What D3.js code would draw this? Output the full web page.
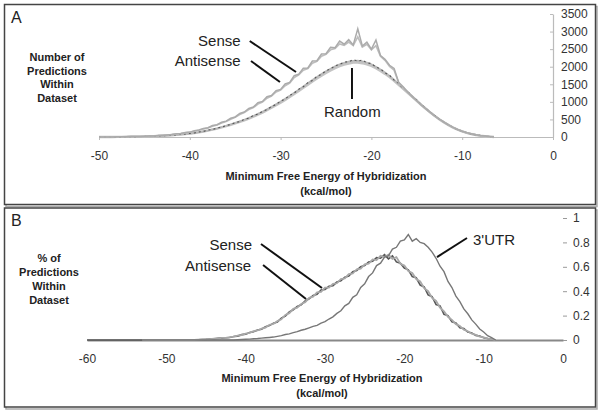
<!DOCTYPE html>
<html><head><meta charset="utf-8">
<script src="https://cdn.jsdelivr.net/npm/d3@7"></script>
<style>
body{margin:0;background:#fff}
svg{display:block;font-family:"Liberation Sans",Arial,Helvetica,sans-serif}
</style>
</head><body>
<svg id="c" width="603" height="412"></svg>
<script>
// ---------- DATA ----------
const energyStep = 0.5;
const startA = -50;              // first energy of every panel-A series
const senseA = [0,0,2,3,5,7,8,11,12,17,20,27,31,41,46,60,69,90,101,128,139,178,198,245,262,326,348,420,452,532,570,668,710,812,852,975,1012,1148,1180,1320,1355,1510,1555,1745,1790,1955,1965,2160,2170,2360,2370,2550,2540,2730,2640,2770,2620,3080,2590,2700,2500,2760,2320,2210,2040,1950,1560,1430,1280,1150,1030,910,800,700,595,505,420,345,275,215,165,125,92,62,40,26,11,0];
const antisenseA = [0,1,2,4,5,6,9,10,13,15,21,25,33,38,48,55,72,83,97,118,136,165,190,228,258,305,340,398,440,505,560,640,695,780,835,935,995,1105,1165,1280,1335,1460,1530,1690,1765,1900,1950,2100,2150,2300,2350,2480,2520,2650,2610,2700,2600,2850,2560,2640,2480,2600,2300,2180,2010,1900,1540,1410,1265,1140,1020,905,795,690,590,500,415,340,270,212,162,122,90,60,39,24,10,0];
const randomA1 = [0,0,1,2,3,4,5,7,9,12,15,19,24,30,37,44,52,62,73,86,100,118,138,162,188,217,248,283,320,358,400,444,490,543,598,657,718,787,858,932,1008,1088,1170,1258,1348,1438,1528,1620,1710,1792,1870,1943,2010,2065,2110,2145,2168,2170,2150,2118,2070,2000,1920,1835,1740,1630,1510,1395,1280,1160,1040,922,810,702,600,505,420,340,270,210,160,118,85,60,40,24,12,0];
const randomA2 = [0,1,1,3,3,5,6,8,9,13,16,20,23,32,36,46,55,60,76,84,104,115,142,158,195,212,255,278,330,352,410,438,502,535,610,650,730,778,870,925,1020,1080,1185,1250,1360,1430,1545,1610,1725,1785,1885,1935,2030,2060,2135,2140,2200,2160,2190,2110,2090,1990,1940,1825,1760,1620,1525,1385,1295,1150,1055,915,820,695,610,498,428,335,276,206,164,115,88,58,42,23,13,0];
const randomA3 = [0,0,1,2,3,4,5,6,8,11,14,18,22,28,35,42,50,59,70,82,96,113,132,155,180,208,238,272,308,345,386,428,473,524,578,635,695,762,832,904,978,1056,1136,1222,1310,1398,1486,1576,1664,1746,1822,1894,1960,2014,2058,2092,2115,2118,2100,2068,2022,1955,1878,1796,1704,1598,1482,1370,1258,1142,1025,910,800,694,594,500,416,338,268,208,158,116,84,58,38,22,10,0];

const startSenseB = -53;
const senseB = [0,0,0,0,0,0,0,0,0,0,0,0,0,0,
  0.002,0.004,0.006,0.007,0.011,0.012,0.017,0.017,0.024,0.027,0.036,0.041,0.052,0.058,0.073,0.078,0.093,0.102,0.124,0.132,0.155,0.17,0.205,0.22,0.255,0.265,0.295,0.31,0.345,0.355,0.39,0.395,0.43,0.43,0.46,0.465,0.50,0.505,0.54,0.545,0.58,0.585,0.62,0.625,0.66,0.655,0.69,0.68,0.70,0.665,0.68,0.625,0.61,0.565,0.55,0.50,0.48,0.425,0.40,0.345,0.32,0.265,0.235,0.19,0.165,0.13,0.115,0.085,0.072,0.052,0.042,0.028,0.021,0.011,0.006,0];
const startAntisenseB = -60;
const antisenseB = [0,0,0,0,0,0,0,0,0,0,0,0,0,0,0,0,0,0,0,0,0,0,0,0,0,0,0,0,
  0.001,0.003,0.005,0.008,0.009,0.013,0.015,0.019,0.021,0.029,0.032,0.044,0.048,0.062,0.068,0.082,0.088,0.108,0.118,0.138,0.148,0.18,0.196,0.23,0.248,0.275,0.288,0.32,0.338,0.365,0.375,0.41,0.415,0.44,0.445,0.475,0.485,0.515,0.525,0.56,0.57,0.6,0.61,0.64,0.645,0.675,0.67,0.70,0.665,0.69,0.64,0.63,0.59,0.575,0.52,0.51,0.45,0.435,0.37,0.355,0.29,0.28,0.21,0.2,0.15,0.14,0.1,0.095,0.065,0.058,0.038,0.033,0.018,0.013,0.005,0];
const startUtrB = -53;
const utrB = [0,0,0,0,0,0,0,0,0,0,0,0,0,0,0,0,0,0,0,0,0,0,0,0,
  0.002,0.004,0.006,0.007,0.01,0.012,0.015,0.018,0.021,0.024,0.03,0.036,0.045,0.05,0.06,0.068,0.08,0.088,0.1,0.112,0.12,0.138,0.15,0.172,0.19,0.218,0.24,0.28,0.3,0.35,0.37,0.43,0.46,0.52,0.55,0.61,0.63,0.68,0.69,0.745,0.76,0.81,
  0.82,0.865,0.81,0.83,0.8,0.79,0.76,0.72,0.67,0.605,0.56,0.48,0.43,0.36,0.315,0.255,0.215,0.165,0.13,0.09,0.065,0.035,0.02,0];

const xTicksA = [-50,-40,-30,-20,-10,0];
const yTicksA = [0,500,1000,1500,2000,2500,3000,3500];
const xTicksB = [-60,-50,-40,-30,-20,-10,0];
const yTicksB = [0,0.2,0.4,0.6,0.8,1];
const yTitleA = ["Number of","Predictions","Within","Dataset"];
const yTitleB = ["% of","Predictions","Within","Dataset"];
const xTitle = ["Minimum Free Energy of Hybridization","(kcal/mol)"];

// annotations in data units
const annA = [
  {text:"Sense", tx:-34.4, tv:2590, anchor:"end", line:[[-33.4,2732],[-28.3,1850]]},
  {text:"Antisense", tx:-34.4, tv:2020, anchor:"end", line:[[-33.26,2163],[-30.07,1565]]},
  {text:"Random", tx:-22.1, tv:569, anchor:"middle", line:[[-22.14,1963],[-22.14,1081]]}
];
const annB = [
  {text:"Sense", tx:-39.2, tv:0.738, anchor:"end", line:[[-38.07,0.787],[-30.38,0.426]]},
  {text:"Antisense", tx:-39.33, tv:0.566, anchor:"end", line:[[-37.81,0.615],[-32.39,0.336]]},
  {text:"3'UTR", tx:-11.34, tv:0.779, anchor:"start", line:[[-12.1,0.836],[-15.88,0.68]]}
];

// ---------- DRAW ----------
const svg = d3.select("#c");
svg.append("rect").attr("width",603).attr("height",412).attr("fill","#fff");
const plain = d => String(d);   // hyphen-minus, no thousands separator

function panelFrame(y, h){
  svg.append("rect").attr("x",6).attr("y",y+2).attr("width",591).attr("height",h)
    .attr("fill","none").attr("stroke","#aaa").attr("stroke-width",1.5);
  svg.append("rect").attr("x",4.5).attr("y",y).attr("width",591).attr("height",h)
    .attr("fill","#fff").attr("stroke","#444").attr("stroke-width",1.5);
}
panelFrame(4.5,200);
panelFrame(208,199);

function toPts(arr, start){ return arr.map((v,i)=>[start + i*energyStep, v]); }

// ----- Panel A -----
const xA = d3.scaleLinear().domain([-50,0]).range([99,553]);
const yA = d3.scaleLinear().domain([0,3500]).range([137,14]);
const gA = svg.append("g");

const axXA = gA.append("g").attr("transform","translate(0,137)")
  .call(d3.axisBottom(xA).tickValues(xTicksA).tickSizeInner(3).tickSizeOuter(0).tickPadding(11).tickFormat(plain));
axXA.select(".domain").attr("stroke","#bbb").attr("stroke-width",1.2);
axXA.selectAll(".tick line").attr("stroke","#bbb");
axXA.selectAll("text").attr("font-size",12).attr("fill","#333").attr("font-family",null);

const axYA = gA.append("g").attr("transform","translate(553,0)")
  .call(d3.axisRight(yA).tickValues(yTicksA).tickSizeInner(-3).tickSizeOuter(0).tickPadding(8).tickFormat(plain));
axYA.select(".domain").attr("stroke","#bbb").attr("stroke-width",1.2);
axYA.selectAll(".tick line").attr("stroke","#bbb");
axYA.selectAll("text").attr("font-size",12).attr("fill","#333").attr("font-family",null);

const lineA = d3.line().x(d=>xA(d[0])).y(d=>yA(d[1]));
gA.append("path").attr("d",lineA(toPts(randomA3,startA))).attr("fill","none").attr("stroke","#c4c4c4").attr("stroke-width",2.4);
gA.append("path").attr("d",lineA(toPts(randomA1,startA))).attr("fill","none").attr("stroke","#b8b8b8").attr("stroke-width",1.8);
gA.append("path").attr("d",lineA(toPts(randomA2,startA))).attr("fill","none").attr("stroke","#555").attr("stroke-width",1.1).attr("stroke-dasharray","2,3");
gA.append("path").attr("d",lineA(toPts(antisenseA,startA))).attr("fill","none").attr("stroke","#bdbdbd").attr("stroke-width",1.6);
gA.append("path").attr("d",lineA(toPts(senseA,startA))).attr("fill","none").attr("stroke","#ababab").attr("stroke-width",1.5);

annA.forEach(a=>{
  gA.append("line").attr("x1",xA(a.line[0][0])).attr("y1",yA(a.line[0][1]))
    .attr("x2",xA(a.line[1][0])).attr("y2",yA(a.line[1][1])).attr("stroke","#111").attr("stroke-width",2);
  gA.append("text").attr("x",xA(a.tx)).attr("y",yA(a.tv)).attr("text-anchor",a.anchor)
    .attr("font-size",15).attr("fill","#222").text(a.text);
});

gA.append("text").attr("x",11).attr("y",23).attr("font-size",16).attr("fill","#222").text("A");
yTitleA.forEach((t,i)=>gA.append("text").attr("x",57).attr("y",61+i*13.7).attr("text-anchor","middle")
  .attr("font-size",11).attr("font-weight","bold").attr("fill","#222").text(t));
xTitle.forEach((t,i)=>gA.append("text").attr("x",326).attr("y",180+i*14.5).attr("text-anchor","middle")
  .attr("font-size",11).attr("font-weight","bold").attr("fill","#222").text(t));

// ----- Panel B -----
const xB = d3.scaleLinear().domain([-60,0]).range([87,563]);
const yB = d3.scaleLinear().domain([0,1]).range([340,218]);
const gB = svg.append("g");

const axXB = gB.append("g").attr("transform","translate(0,340)")
  .call(d3.axisBottom(xB).tickValues(xTicksB).tickSize(0).tickPadding(14.5).tickFormat(plain));
axXB.select(".domain").attr("stroke","#888").attr("stroke-width",2.2);
axXB.selectAll("text").attr("font-size",12).attr("fill","#333").attr("font-family",null);

const axYB = gB.append("g").attr("transform","translate(563,0)")
  .call(d3.axisRight(yB).tickValues(yTicksB).tickSizeInner(4).tickSizeOuter(0).tickPadding(6).tickFormat(plain));
axYB.select(".domain").attr("stroke","none");
axYB.selectAll(".tick line").attr("stroke","#999");
axYB.selectAll("text").attr("font-size",12).attr("fill","#333").attr("font-family",null);

const lineB = d3.line().x(d=>xB(d[0])).y(d=>yB(d[1]));
gB.append("path").attr("d",lineB(toPts(antisenseB,startAntisenseB))).attr("fill","none").attr("stroke","#555").attr("stroke-width",1.6);
gB.append("path").attr("d",lineB(toPts(senseB,startSenseB))).attr("fill","none").attr("stroke","#a8a8a8").attr("stroke-width",1.8);
gB.append("path").attr("d",lineB(toPts(utrB,startUtrB))).attr("fill","none").attr("stroke","#777").attr("stroke-width",1.4);

annB.forEach(a=>{
  gB.append("line").attr("x1",xB(a.line[0][0])).attr("y1",yB(a.line[0][1]))
    .attr("x2",xB(a.line[1][0])).attr("y2",yB(a.line[1][1])).attr("stroke","#111").attr("stroke-width",2);
  gB.append("text").attr("x",xB(a.tx)).attr("y",yB(a.tv)).attr("text-anchor",a.anchor)
    .attr("font-size",15).attr("fill","#222").text(a.text);
});

gB.append("text").attr("x",11).attr("y",226).attr("font-size",16).attr("fill","#222").text("B");
yTitleB.forEach((t,i)=>gB.append("text").attr("x",49).attr("y",262+i*14).attr("text-anchor","middle")
  .attr("font-size",11).attr("font-weight","bold").attr("fill","#222").text(t));
xTitle.forEach((t,i)=>gB.append("text").attr("x",322).attr("y",382+i*15).attr("text-anchor","middle")
  .attr("font-size",11).attr("font-weight","bold").attr("fill","#222").text(t));
</script>
</body></html>
